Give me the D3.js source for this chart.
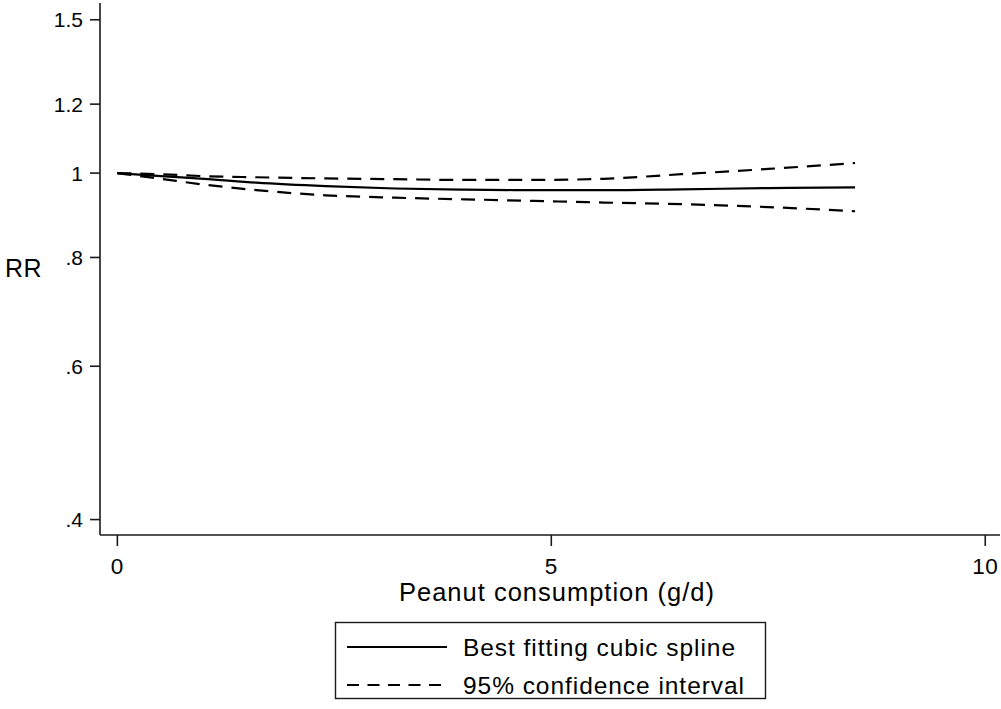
<!DOCTYPE html>
<html>
<head>
<meta charset="utf-8">
<script src="https://cdn.jsdelivr.net/npm/d3@7"></script>
<style>
  html, body { margin: 0; padding: 0; background: #fff; }
  svg { display: block; }
  text { font-family: "Liberation Sans", Arial, sans-serif; fill: #000; }
</style>
</head>
<body>
<svg id="chart" width="1001" height="709"></svg>
<script>
// Peanut consumption (g/d) vs relative risk: spline fit and 95% CI
const doseX   = [0, 0.5, 1.0, 1.6, 2.4, 3.2, 4.0, 4.8, 5.6, 6.5, 7.5, 8.5];
const splineRR = [1.0, 0.992, 0.985, 0.975, 0.966, 0.960, 0.957, 0.956, 0.956, 0.958, 0.961, 0.963];
const upperRR  = [1.0, 0.997, 0.992, 0.989, 0.986, 0.984, 0.982, 0.982, 0.985, 0.997, 1.011, 1.027];
const lowerRR  = [1.0, 0.985, 0.970, 0.956, 0.943, 0.937, 0.933, 0.929, 0.925, 0.921, 0.914, 0.904];

const xTicks = [0, 5, 10];
const yTicks = [0.4, 0.6, 0.8, 1, 1.2, 1.5];
const yTickLabels = [".4", ".6", ".8", "1", "1.2", "1.5"];

const legendItems = [
  { label: "Best fitting cubic spline", dash: null },
  { label: "95% confidence interval", dash: "12,8.5" }
];

const svg = d3.select("#chart");

const x = d3.scaleLinear().domain([-0.2, 10.17]).range([100, 1000]);
const y = d3.scaleLog().domain([0.384, 1.568]).range([535, 3]);

const axisColor = "#1a1a1a";

// Y axis
const yAxis = svg.append("g").attr("transform", "translate(100,0)");
yAxis.append("line")
  .attr("x1", 0).attr("x2", 0).attr("y1", y.range()[1]).attr("y2", y.range()[0])
  .attr("stroke", axisColor).attr("stroke-width", 1.6);
yTicks.forEach((t, i) => {
  yAxis.append("line")
    .attr("x1", -10).attr("x2", 0).attr("y1", y(t)).attr("y2", y(t))
    .attr("stroke", axisColor).attr("stroke-width", 1.6);
  yAxis.append("text")
    .attr("x", -17).attr("y", y(t)).attr("dy", "0.36em")
    .attr("text-anchor", "end").attr("font-size", 21)
    .text(yTickLabels[i]);
});

// X axis
const xAxis = svg.append("g").attr("transform", "translate(0,535)");
xAxis.append("line")
  .attr("x1", x.range()[0]).attr("x2", x.range()[1]).attr("y1", 0).attr("y2", 0)
  .attr("stroke", axisColor).attr("stroke-width", 1.6);
xTicks.forEach(t => {
  xAxis.append("line")
    .attr("x1", x(t)).attr("x2", x(t)).attr("y1", 0).attr("y2", 11)
    .attr("stroke", axisColor).attr("stroke-width", 1.6);
  xAxis.append("text")
    .attr("x", x(t)).attr("y", 39)
    .attr("text-anchor", "middle").attr("font-size", 22.5)
    .attr("letter-spacing", 0.6)
    .text(t);
});

// Axis titles
svg.append("text")
  .attr("x", 557).attr("y", 601)
  .attr("text-anchor", "middle").attr("font-size", 25.5)
  .attr("letter-spacing", 1.0)
  .text("Peanut consumption (g/d)");
svg.append("text")
  .attr("x", 5).attr("y", 277)
  .attr("font-size", 25)
  .attr("letter-spacing", 0.4)
  .text("RR");

// Curves
const line = d3.line()
  .x(d => x(d[0]))
  .y(d => y(d[1]))
  .curve(d3.curveMonotoneX);

const series = [
  { vals: upperRR, dash: "14,9" },
  { vals: lowerRR, dash: "14,9" },
  { vals: splineRR, dash: null }
];
series.forEach(s => {
  svg.append("path")
    .datum(doseX.map((d, i) => [d, s.vals[i]]))
    .attr("d", line)
    .attr("fill", "none")
    .attr("stroke", "#000")
    .attr("stroke-width", 2.2)
    .attr("stroke-dasharray", s.dash);
});

// Legend
const legend = svg.append("g");
legend.append("rect")
  .attr("x", 335.5).attr("y", 622.5).attr("width", 430).attr("height", 76)
  .attr("fill", "#fff").attr("stroke", axisColor).attr("stroke-width", 1.4);
legendItems.forEach((item, i) => {
  const cy = 647 + i * 38;
  legend.append("line")
    .attr("x1", 347).attr("x2", 447).attr("y1", cy).attr("y2", cy)
    .attr("stroke", "#000").attr("stroke-width", 2)
    .attr("stroke-dasharray", item.dash);
  legend.append("text")
    .attr("x", 463).attr("y", cy + 8.5)
    .attr("font-size", 24.5)
    .attr("letter-spacing", 0.95)
    .text(item.label);
});
</script>
</body>
</html>
